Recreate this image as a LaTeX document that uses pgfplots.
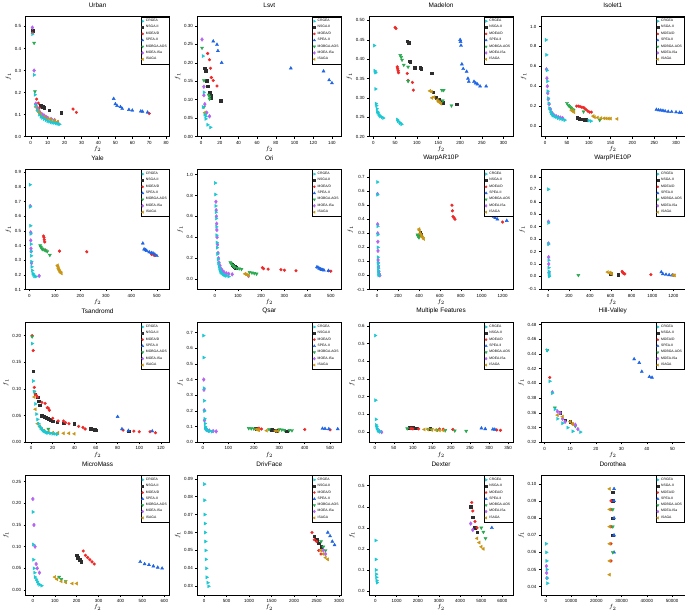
\documentclass[border=0pt]{standalone}
\usepackage{pgfplots}
\pgfplotsset{compat=1.18}
\usepgfplotslibrary{groupplots}
\usepackage{fontspec}
\setmainfont{Liberation Sans}
\definecolor{cA}{RGB}{25,200,210}
\definecolor{cB}{RGB}{45,45,45}
\definecolor{cC}{RGB}{240,40,40}
\definecolor{cD}{RGB}{30,100,230}
\definecolor{cE}{RGB}{40,170,80}
\definecolor{cF}{RGB}{180,100,240}
\definecolor{cG}{RGB}{200,150,20}
\pgfplotsset{
 sA/.style={only marks, color=cA, mark=triangle*, mark size=1.8pt, mark options={rotate=-90}},
 sB/.style={only marks, color=cB, mark=square*, mark size=1.3pt},
 sC/.style={only marks, color=cC, mark=*, mark size=1.4pt},
 sD/.style={only marks, color=cD, mark=triangle*, mark size=1.8pt},
 sE/.style={only marks, color=cE, mark=triangle*, mark size=1.8pt, mark options={rotate=180}},
 sF/.style={only marks, color=cF, mark=diamond*, mark size=1.9pt},
 sG/.style={only marks, color=cG, mark=triangle*, mark size=1.8pt, mark options={rotate=90}},
 panel/.style={
   scale only axis, width=145pt, height=121pt,
   axis line style={line width=0.5pt},
   xtick pos=bottom, ytick pos=left, tick align=outside,
   major tick length=2pt, tick style={line width=0.4pt, black},
   font=\fontsize{4.5}{5}\selectfont,
   /pgf/number format/assume math mode=true,
   /pgf/number format/set thousands separator={},
   scaled ticks=false,
   xticklabel style={/pgf/number format/.cd, fixed, precision=0, set thousands separator={}},
   xticklabel shift=-1pt, yticklabel shift=-1pt,
   title style={font=\fontsize{6.5}{7}\selectfont, at={(0.5,1)}, anchor=south, yshift=-1pt},
   xlabel={$f_2$}, ylabel={$f_1$},
   label style={font=\fontsize{6.5}{7}\selectfont},
   xlabel style={yshift=5pt}, ylabel style={yshift=-3pt},
   legend style={at={(1,1)}, anchor=north east, font=\fontsize{3.4}{3.8}\selectfont,
     row sep=-1.5pt, inner sep=0.6pt, cells={anchor=west}, draw=black, line width=0.4pt},
   legend image post style={scale=0.75},
 },
 yp1/.style={yticklabel style={/pgf/number format/.cd, fixed, fixed zerofill, precision=1}},
 yp2/.style={yticklabel style={/pgf/number format/.cd, fixed, fixed zerofill, precision=2}},
}
\newcommand\mylegend{%
 \addlegendimage{sA}\addlegendentry{CRGEA}
 \addlegendimage{sB}\addlegendentry{NSGA-II}
 \addlegendimage{sC}\addlegendentry{MOEA/D}
 \addlegendimage{sD}\addlegendentry{SPEA-II}
 \addlegendimage{sE}\addlegendentry{MOBGA-AOS}
 \addlegendimage{sF}\addlegendentry{MOEA-ISa}
 \addlegendimage{sG}\addlegendentry{ISAGA}}
\begin{document}
\begin{tikzpicture}
\begin{groupplot}[group style={group size=4 by 4, horizontal sep=28pt, vertical sep=33pt}, panel]
% 1 Urban
\nextgroupplot[title={Urban}, xmin=-3, xmax=82, xtick={0,10,...,80}, ymin=0, ymax=0.545, ytick={0,0.1,...,0.5}, yp1]
\mylegend
\addplot[sB, forget plot] coordinates {(1,0.48) (6,0.14) (7,0.135) (8,0.13) (11,0.12) (18,0.108)};
\addplot[sC, forget plot] coordinates {(1,0.47) (3.5,0.17) (4.5,0.152) (5,0.13) (25,0.125) (27,0.11) (70,0.105)};
\addplot[sD, forget plot] coordinates {(49,0.172) (50,0.148) (51,0.14) (53,0.135) (54,0.127) (58,0.122) (60,0.119) (65,0.115) (66,0.114) (69,0.11)};
\addplot[sE, forget plot] coordinates {(2,0.425) (2.5,0.205) (3,0.145) (4,0.125) (5,0.11) (6,0.1) (7,0.095) (8,0.09) (10,0.085) (12,0.078) (14,0.072)};
\addplot[sF, forget plot] coordinates {(1,0.495) (2,0.3) (3,0.15) (4,0.13) (5,0.115) (6,0.105) (7,0.1) (8,0.095) (9,0.09) (10,0.085) (12,0.08) (14,0.075) (16,0.065)};
\addplot[sG, forget plot] coordinates {(3,0.135) (4,0.12) (5,0.11) (6,0.1) (8,0.09) (10,0.082) (12,0.077) (14,0.073) (16,0.068)};
\addplot[sA, forget plot] coordinates {(1,0.465) (2,0.28) (2.5,0.19) (3,0.14) (4,0.12) (5,0.1) (6,0.09) (7,0.085) (8,0.08) (9,0.075) (10,0.07) (11,0.068) (12,0.065) (13,0.063) (14,0.062) (15,0.06) (16,0.058) (17,0.056)};
% 2 Lsvt
\nextgroupplot[title={Lsvt}, xmin=-4, xmax=150, xtick={0,20,...,140}, ymin=0, ymax=0.325, ytick={0,0.05,...,0.3}, yp2]
\mylegend
\addplot[sB, forget plot] coordinates {(4,0.185) (5,0.178) (6,0.152) (7,0.137) (9,0.12) (9,0.113) (10,0.11) (11,0.105) (21,0.097)};
\addplot[sC, forget plot] coordinates {(7,0.225) (9,0.208) (10,0.185) (11,0.16) (13,0.152) (17,0.137)};
\addplot[sD, forget plot] coordinates {(13,0.258) (17,0.249) (18,0.232) (22,0.2) (96,0.185) (131,0.177) (137,0.153) (140,0.145)};
\addplot[sE, forget plot] coordinates {(1,0.24) (3,0.152) (8,0.113) (9,0.108) (9,0.102) (3,0.08)};
\addplot[sF, forget plot] coordinates {(1,0.263) (3,0.135) (3,0.112) (4,0.088) (6,0.065) (9,0.055)};
\addplot[sG, forget plot] coordinates {(4,0.065)};
\addplot[sA, forget plot] coordinates {(2,0.218) (3,0.12) (2,0.08) (4,0.06) (5,0.055) (5,0.048) (7,0.032) (10,0.025)};
% 3 Madelon
\nextgroupplot[title={Madelon}, xmin=-10, xmax=322, xtick={0,50,...,300}, ymin=0.2, ymax=0.51, ytick={0.2,0.25,...,0.5}, yp2]
\mylegend
\addplot[sB, forget plot] coordinates {(78,0.446) (82,0.442) (83,0.395) (85,0.392) (95,0.378) (108,0.378) (110,0.375) (135,0.364) (138,0.315) (145,0.3) (150,0.295) (155,0.29) (160,0.288) (192,0.284)};
\addplot[sC, forget plot] coordinates {(50,0.482) (52,0.479) (55,0.38) (56,0.375) (57,0.37) (58,0.365) (78,0.363) (80,0.345) (90,0.34) (92,0.32)};
\addplot[sD, forget plot] coordinates {(200,0.45) (201,0.445) (202,0.435) (204,0.387) (207,0.375) (215,0.368) (218,0.35) (220,0.342) (232,0.342) (236,0.338) (240,0.335) (246,0.33) (260,0.33)};
\addplot[sE, forget plot] coordinates {(62,0.41) (64,0.405) (66,0.398) (70,0.385) (80,0.38) (80,0.343) (158,0.32) (162,0.32) (160,0.293) (180,0.28)};
\addplot[sG, forget plot] coordinates {(130,0.318) (134,0.316) (135,0.3) (140,0.302) (148,0.295) (150,0.29) (153,0.288) (156,0.285)};
\addplot[sA, forget plot] coordinates {(2,0.435) (3,0.37) (4,0.367) (5,0.365) (5,0.323) (6,0.285) (7,0.28) (8,0.272) (9,0.265) (10,0.262) (12,0.258) (14,0.255) (16,0.252) (20,0.25) (23,0.248) (55,0.244) (57,0.24) (60,0.237) (62,0.235) (65,0.232)};
% 4 Isolet1
\nextgroupplot[title={Isolet1}, xmin=-10, xmax=320, xtick={0,50,...,300}, ymin=-0.106, ymax=1.1, ytick={0,0.2,...,1}, yp1]
\mylegend
\addplot[sB, forget plot] coordinates {(73,0.09) (75,0.08) (78,0.075) (82,0.07) (86,0.067) (90,0.065) (94,0.062)};
\addplot[sC, forget plot] coordinates {(72,0.2) (76,0.2) (80,0.195) (84,0.19) (88,0.185) (90,0.18) (94,0.165) (98,0.15) (102,0.14) (106,0.14)};
\addplot[sD, forget plot] coordinates {(255,0.165) (260,0.16) (265,0.158) (270,0.155) (275,0.15) (282,0.145) (290,0.143) (300,0.14) (308,0.135) (312,0.133)};
\addplot[sE, forget plot] coordinates {(50,0.23) (53,0.21) (55,0.2) (58,0.19) (60,0.18) (63,0.17) (65,0.16) (88,0.145) (125,0.06)};
\addplot[sF, forget plot] coordinates {(3,0.57) (4,0.48) (5,0.4) (6,0.33) (7,0.27) (9,0.22) (12,0.17) (16,0.13) (20,0.11) (25,0.1) (30,0.09) (35,0.085) (40,0.08)};
\addplot[sG, forget plot] coordinates {(60,0.16) (63,0.15) (66,0.14) (110,0.1) (113,0.09) (120,0.085) (128,0.08) (135,0.078) (140,0.077) (145,0.075) (150,0.075) (165,0.072)};
\addplot[sA, forget plot] coordinates {(2,0.865) (3,0.715) (4,0.56) (5,0.45) (6,0.35) (7,0.28) (8,0.23) (10,0.18) (12,0.15) (14,0.13) (16,0.115) (18,0.105) (22,0.095) (26,0.09) (30,0.08) (35,0.072) (40,0.065) (45,0.06) (100,0.055) (105,0.05)};
% 5 Yale
\nextgroupplot[title={Yale}, xmin=-15, xmax=550, xtick={0,100,...,500}, ymin=0.1, ymax=0.92, ytick={0.1,0.2,...,0.9}, yp1]
\mylegend
\addplot[sC, forget plot] coordinates {(55,0.465) (57,0.455) (58,0.44) (60,0.425) (62,0.37) (118,0.362) (225,0.357) (480,0.34) (490,0.333)};
\addplot[sD, forget plot] coordinates {(445,0.415) (450,0.375) (455,0.37) (460,0.365) (470,0.355) (478,0.35) (485,0.348) (492,0.34) (500,0.33)};
\addplot[sE, forget plot] coordinates {(42,0.4) (45,0.39) (48,0.38) (52,0.375) (58,0.37) (65,0.365) (70,0.36) (80,0.335)};
\addplot[sF, forget plot] coordinates {(3,0.67) (5,0.49) (5,0.435) (6,0.38) (7,0.36) (8,0.28) (38,0.193)};
\addplot[sG, forget plot] coordinates {(110,0.265) (112,0.255) (114,0.245) (116,0.235) (118,0.228) (120,0.22) (123,0.215) (126,0.21)};
\addplot[sA, forget plot] coordinates {(2,0.815) (3,0.665) (4,0.535) (5,0.48) (6,0.41) (6,0.36) (7,0.33) (8,0.29) (9,0.255) (11,0.23) (13,0.21) (16,0.2) (20,0.19) (25,0.188)};
% 6 Ori
\nextgroupplot[title={Ori}, xmin=-75, xmax=545, xtick={0,100,...,500}, ymin=-0.1, ymax=1.05, ytick={0,0.2,...,1}, yp1]
\mylegend
\addplot[sB, forget plot] coordinates {(75,0.14) (80,0.13) (85,0.12) (90,0.11)};
\addplot[sC, forget plot] coordinates {(205,0.11) (210,0.1) (230,0.095) (285,0.09) (300,0.085) (350,0.08) (500,0.075) (490,0.08)};
\addplot[sD, forget plot] coordinates {(440,0.115) (445,0.11) (450,0.1) (455,0.095) (460,0.09) (465,0.088) (470,0.085) (490,0.08)};
\addplot[sE, forget plot] coordinates {(67,0.16) (70,0.15) (75,0.135) (80,0.125) (85,0.115) (95,0.105) (105,0.1) (115,0.095) (150,0.065) (160,0.06) (170,0.055) (180,0.05)};
\addplot[sF, forget plot] coordinates {(5,0.74) (6,0.66) (7,0.6) (8,0.53) (9,0.47) (10,0.4) (12,0.33) (14,0.25) (16,0.2) (18,0.16) (22,0.13) (27,0.1) (33,0.08) (40,0.065) (50,0.055) (60,0.05) (75,0.045) (145,0.03)};
\addplot[sG, forget plot] coordinates {(130,0.05) (135,0.045) (140,0.04) (145,0.035)};
\addplot[sA, forget plot] coordinates {(2,0.92) (3,0.81) (4,0.7) (5,0.64) (6,0.58) (7,0.5) (8,0.42) (9,0.35) (10,0.3) (12,0.24) (14,0.19) (16,0.15) (18,0.12) (20,0.1) (23,0.08) (26,0.065) (30,0.055) (35,0.045) (40,0.04) (45,0.035) (50,0.03) (60,0.025)};
% 7 WarpAR10P
\nextgroupplot[title={WarpAR10P}, xmin=-78, xmax=1300, xtick={0,200,...,1200}, ymin=-0.1, ymax=0.755, ytick={-0.1,0,0.1,0.2,0.3,0.4,0.5,0.6,0.7}, yp1]
\mylegend
\addplot[sB, forget plot] coordinates {(410,0.305) (415,0.29)};
\addplot[sC, forget plot] coordinates {(715,0.5) (720,0.46) (725,0.42) (735,0.41) (745,0.4) (1200,0.38)};
\addplot[sD, forget plot] coordinates {(1085,0.45) (1095,0.44) (1105,0.43) (1115,0.42) (1130,0.41) (1150,0.4) (1240,0.39)};
\addplot[sE, forget plot] coordinates {(385,0.29) (390,0.28) (395,0.275) (400,0.27)};
\addplot[sF, forget plot] coordinates {(3,0.58) (4,0.365) (5,0.3) (6,0.24) (7,0.175) (8,0.11) (10,0.09) (12,0.06) (15,0.03) (20,0.01) (25,0.0)};
\addplot[sG, forget plot] coordinates {(400,0.33) (405,0.32) (410,0.3) (420,0.29) (425,0.28) (435,0.27) (445,0.26)};
\addplot[sA, forget plot] coordinates {(2,0.665) (3,0.575) (4,0.35) (5,0.29) (6,0.2) (7,0.13) (8,0.09) (9,0.07) (10,0.05) (11,0.03) (12,0.01) (14,0.0)};
% 8 WarpPIE10P
\nextgroupplot[title={WarpPIE10P}, xmin=-70, xmax=1310, xtick={0,200,...,1200}, ymin=-0.105, ymax=0.86, ytick={-0.1,0,0.1,0.2,0.3,0.4,0.5,0.6,0.7,0.8}, yp1]
\mylegend
\addplot[sB, forget plot] coordinates {(600,0.02) (670,0.015)};
\addplot[sC, forget plot] coordinates {(710,0.04) (715,0.03) (725,0.025) (735,0.02) (985,0.015) (1200,0.01)};
\addplot[sD, forget plot] coordinates {(1085,0.035) (1100,0.02) (1130,0.015) (1160,0.012) (1190,0.01)};
\addplot[sE, forget plot] coordinates {(290,0.01)};
\addplot[sF, forget plot] coordinates {(3,0.44) (4,0.265) (5,0.155) (6,0.1) (8,0.03)};
\addplot[sG, forget plot] coordinates {(570,0.035) (590,0.03) (600,0.025) (610,0.02) (1200,0.01) (1215,0.008)};
\addplot[sA, forget plot] coordinates {(2,0.7) (3,0.43) (4,0.26) (5,0.13) (6,0.07) (7,0.04) (8,0.02) (9,0.01) (10,0.0)};
% 9 Tsandromd
\nextgroupplot[title={Tsandromd}, xmin=-5, xmax=128, xtick={0,20,...,120}, ymin=0, ymax=0.225, ytick={0,0.05,...,0.2}, yp2]
\mylegend
\addplot[sB, forget plot] coordinates {(2,0.133) (4,0.09) (6,0.085) (7,0.077) (8,0.07) (10,0.05) (12,0.048) (14,0.046) (16,0.044) (18,0.042) (20,0.04) (24,0.038) (30,0.036) (40,0.035) (55,0.026) (57,0.025) (59,0.024) (60,0.023) (90,0.021)};
\addplot[sC, forget plot] coordinates {(1,0.2) (2,0.172) (3,0.103) (4,0.09) (5,0.088) (6,0.085) (10,0.075) (13,0.073) (15,0.065) (16,0.064) (17,0.06) (20,0.045) (25,0.04) (30,0.04) (32,0.037) (35,0.035) (44,0.03) (48,0.028) (50,0.025) (85,0.023) (95,0.021) (100,0.02) (110,0.02) (115,0.018)};
\addplot[sD, forget plot] coordinates {(80,0.048) (84,0.025) (90,0.022) (112,0.021)};
\addplot[sE, forget plot] coordinates {(1,0.198) (3,0.095) (16,0.025)};
\addplot[sG, forget plot] coordinates {(3,0.085) (4,0.062) (6,0.035) (8,0.03) (10,0.025) (12,0.022) (16,0.02) (20,0.018) (25,0.018) (30,0.017) (35,0.017) (40,0.016)};
\addplot[sA, forget plot] coordinates {(1,0.185) (2,0.115) (3,0.095) (4,0.072) (5,0.053) (6,0.043) (7,0.035) (8,0.03) (9,0.027) (10,0.024) (11,0.022) (12,0.021) (13,0.02) (14,0.019) (15,0.018) (16,0.018) (18,0.017) (20,0.016) (22,0.016) (24,0.015)};
% 10 Qsar
\nextgroupplot[title={Qsar}, xmin=-22, xmax=544, xtick={0,100,...,500}, ymin=0, ymax=0.765, ytick={0,0.1,...,0.7}, yp1]
\mylegend
\addplot[sB, forget plot] coordinates {(205,0.09) (210,0.088) (270,0.08) (280,0.078) (290,0.075) (330,0.072)};
\addplot[sC, forget plot] coordinates {(220,0.09) (230,0.085) (400,0.082) (500,0.08)};
\addplot[sD, forget plot] coordinates {(470,0.088) (480,0.087) (495,0.085) (530,0.085)};
\addplot[sE, forget plot] coordinates {(180,0.09) (190,0.088) (200,0.087) (260,0.083) (300,0.082) (310,0.08) (320,0.078) (340,0.077) (350,0.076)};
\addplot[sF, forget plot] coordinates {(3,0.4) (4,0.335) (5,0.205) (6,0.14) (10,0.09) (15,0.08) (25,0.075) (40,0.072) (52,0.07)};
\addplot[sG, forget plot] coordinates {(210,0.083) (215,0.08) (220,0.078) (250,0.075) (285,0.073) (295,0.072)};
\addplot[sA, forget plot] coordinates {(2,0.68) (3,0.54) (4,0.345) (5,0.265) (6,0.2) (7,0.15) (8,0.12) (9,0.1) (10,0.09) (12,0.085) (15,0.08) (20,0.075) (25,0.072) (35,0.068)};
% 11 Multiple Features
\nextgroupplot[title={Multiple Features}, xmin=-15, xmax=363, xtick={0,50,...,350}, ymin=-0.058, ymax=0.62, ytick={0,0.1,...,0.6}, yp1]
\mylegend
\addplot[sB, forget plot] coordinates {(90,0.025) (100,0.024) (110,0.022) (145,0.02)};
\addplot[sC, forget plot] coordinates {(95,0.02) (100,0.018) (115,0.018) (170,0.017) (180,0.016) (205,0.015) (320,0.012) (330,0.01)};
\addplot[sD, forget plot] coordinates {(280,0.022) (290,0.018) (310,0.016) (315,0.015)};
\addplot[sE, forget plot] coordinates {(85,0.02) (140,0.018) (150,0.015) (165,0.012) (185,0.01) (210,0.008) (240,0.006)};
\addplot[sF, forget plot] coordinates {(18,0.0) (12,0.005)};
\addplot[sG, forget plot] coordinates {(130,0.015) (140,0.014) (150,0.013) (160,0.012) (170,0.01) (180,0.009)};
\addplot[sA, forget plot] coordinates {(1,0.545) (2,0.18) (3,0.072) (4,0.04) (5,0.03) (6,0.02) (8,0.01) (10,0.005) (14,0.002)};
% 12 Hill-Valley
\nextgroupplot[title={Hill-Valley}, xmin=-1.5, xmax=54.8, xtick={0,10,...,50}, ymin=0.32, ymax=0.483, ytick={0.32,0.34,...,0.48}, yp2]
\mylegend
\addplot[sB, forget plot] coordinates {(6,0.36) (8,0.35) (10,0.348)};
\addplot[sC, forget plot] coordinates {(2,0.408) (11,0.345)};
\addplot[sD, forget plot] coordinates {(35,0.433) (37,0.428) (38,0.416) (41,0.409) (42,0.408)};
\addplot[sE, forget plot] coordinates {(1,0.445) (4,0.367) (12,0.342)};
\addplot[sF, forget plot] coordinates {(3,0.388) (5,0.362) (6,0.36) (7,0.352) (8,0.348) (12,0.344) (13,0.338)};
\addplot[sG, forget plot] coordinates {(5,0.357) (7,0.355) (10,0.348) (11,0.345)};
\addplot[sA, forget plot] coordinates {(1,0.445) (2,0.403) (3,0.387) (4,0.365) (5,0.352) (7,0.346) (9,0.34) (11,0.335) (14,0.334)};
% 13 MicroMass
\nextgroupplot[title={MicroMass}, xmin=-33, xmax=624, xtick={0,100,...,600}, ymin=-0.012, ymax=0.265, ytick={0,0.05,...,0.25}, yp2]
\mylegend
\addplot[sB, forget plot] coordinates {(200,0.08) (205,0.075) (215,0.07) (220,0.065)};
\addplot[sC, forget plot] coordinates {(230,0.09) (240,0.08) (250,0.075) (260,0.07) (270,0.065) (280,0.06)};
\addplot[sD, forget plot] coordinates {(490,0.065) (510,0.06) (530,0.058) (550,0.055) (570,0.052) (590,0.05)};
\addplot[sE, forget plot] coordinates {(120,0.03) (130,0.025) (150,0.02)};
\addplot[sF, forget plot] coordinates {(0,0.21) (5,0.15) (10,0.1) (15,0.06) (20,0.05) (30,0.04)};
\addplot[sG, forget plot] coordinates {(100,0.03) (110,0.025) (130,0.02) (150,0.018) (180,0.015) (200,0.015)};
\addplot[sA, forget plot] coordinates {(0,0.18) (2,0.105) (3,0.07) (5,0.05) (8,0.04) (10,0.03) (15,0.025) (20,0.02) (25,0.015) (30,0.012) (40,0.01)};
% 14 DrivFace
\nextgroupplot[title={DrivFace}, xmin=-150, xmax=3050, xtick={0,500,...,3000}, ymin=0.025, ymax=0.092, ytick={0.03,0.04,...,0.09}, yp2]
\mylegend
\addplot[sB, forget plot] coordinates {(2450,0.058) (2500,0.056) (2550,0.054) (2600,0.052)};
\addplot[sC, forget plot] coordinates {(2400,0.06) (2450,0.056) (2500,0.055) (2550,0.05) (2600,0.048)};
\addplot[sD, forget plot] coordinates {(2750,0.06) (2800,0.058) (2850,0.055) (2900,0.053)};
\addplot[sE, forget plot] coordinates {(2600,0.055) (2650,0.052) (2700,0.05)};
\addplot[sF, forget plot] coordinates {(2650,0.05) (2700,0.048)};
\addplot[sG, forget plot] coordinates {(2600,0.05) (2650,0.048) (2700,0.046) (2750,0.045)};
\addplot[sA, forget plot] coordinates {(5,0.087) (10,0.078) (15,0.07) (20,0.065) (25,0.06) (30,0.055) (35,0.05) (40,0.045) (50,0.04) (60,0.035) (80,0.032) (100,0.03)};
% 15 Dexter
\nextgroupplot[title={Dexter}, xmin=-300, xmax=6500, xtick={0,1000,...,6000}, ymin=-0.02, ymax=0.55, ytick={0,0.1,...,0.5}, yp1]
\mylegend
\addplot[sB, forget plot] coordinates {(4500,0.4) (4600,0.35) (4700,0.3) (4800,0.28)};
\addplot[sC, forget plot] coordinates {(4550,0.42) (4600,0.38) (4700,0.33) (4800,0.3)};
\addplot[sD, forget plot] coordinates {(5300,0.49) (5400,0.4) (5400,0.35) (5500,0.3)};
\addplot[sE, forget plot] coordinates {(5000,0.3) (5100,0.28) (5200,0.25)};
\addplot[sF, forget plot] coordinates {(4500,0.32) (4600,0.29)};
\addplot[sG, forget plot] coordinates {(4800,0.25) (4900,0.23) (5000,0.21) (5100,0.2)};
\addplot[sA, forget plot] coordinates {(10,0.24) (20,0.15) (30,0.1) (40,0.08) (50,0.065) (60,0.05) (80,0.04)};
% 16 Dorothea
\nextgroupplot[title={Dorothea}, xmin=-2000, xmax=55000, xtick={0,10000,...,50000}, ymin=0.035, ymax=0.105, ytick={0.04,0.05,...,0.1}, yp2]
\mylegend
\addplot[sB, forget plot] coordinates {(26500,0.07) (26500,0.08) (26500,0.09) (26500,0.095)};
\addplot[sC, forget plot] coordinates {(25800,0.055) (25800,0.065) (25800,0.075) (25800,0.085) (25800,0.09)};
\addplot[sD, forget plot] coordinates {(27000,0.06) (27000,0.07) (27000,0.08) (27000,0.09) (27000,0.097)};
\addplot[sE, forget plot] coordinates {(26500,0.06) (26500,0.075) (26500,0.085)};
\addplot[sF, forget plot] coordinates {(200,0.052) (300,0.048) (400,0.045)};
\addplot[sG, forget plot] coordinates {(25200,0.047) (25200,0.055) (25200,0.065) (25200,0.075) (25200,0.085) (25200,0.097)};
\addplot[sA, forget plot] coordinates {(100,0.065) (200,0.06) (300,0.055) (400,0.05) (500,0.045) (600,0.042)};
\end{groupplot}
\end{tikzpicture}
\end{document}
